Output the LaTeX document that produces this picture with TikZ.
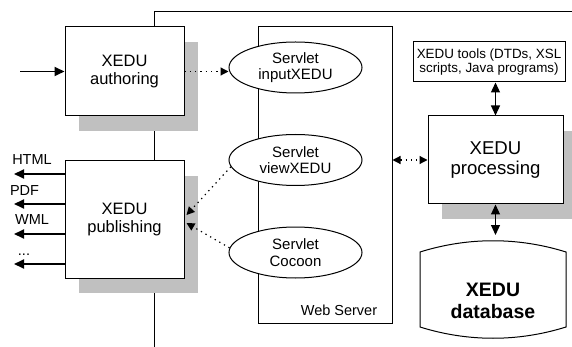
\documentclass[tikz,border=0pt]{standalone}
\usepackage{fontspec}
\setmainfont{Liberation Sans}
\usetikzlibrary{shapes.geometric,arrows.meta,shadows}
\definecolor{shadowgray}{HTML}{C0C0C0}
\begin{document}
\begin{tikzpicture}[x=1pt,y=-1pt,
  every node/.style={inner sep=0pt,align=center},
  frame/.style={line width=1pt},
  mainbox/.style={draw,fill=white,line width=1pt,
    drop shadow={shadow xshift=14pt,shadow yshift=-15pt,fill=shadowgray,opacity=1},
    font=\fontsize{16.5}{18.5}\selectfont},
  servlet/.style={ellipse,draw,fill=white,line width=1pt,minimum width=133pt,minimum height=51pt,
    font=\fontsize{15}{16.5}\selectfont},
  lbl/.style={font=\fontsize{14.5}{16}\selectfont},
  solidarrow/.style={line width=1.8pt,-{Triangle[length=10pt,width=9pt]}},
  dotarrow/.style={line width=1.2pt,dash pattern=on 1.3pt off 4pt,-{Triangle[length=8pt,width=8pt]}},
  dotdouble/.style={line width=1.2pt,dash pattern=on 1.3pt off 4pt,{Triangle[length=8pt,width=8pt]}-{Triangle[length=8pt,width=8pt]}},
  soliddouble/.style={line width=1.2pt,{Triangle[length=10pt,width=9pt]}-{Triangle[length=10pt,width=9pt]}}
]
\useasboundingbox (0,0) rectangle (572,347);
\clip (0,0) rectangle (572,347);

% frame lines
\draw[frame] (572,12) -- (154,12) -- (154,347);

% web server
\node[draw,fill=white,line width=1pt,minimum width=134pt,minimum height=296pt] (web) at (325,175) {};
\node[lbl,anchor=base] (weblbl) at (339,315) {Web Server};

% main boxes
\node[mainbox,minimum width=119pt,minimum height=89pt] (auth) at (124.5,71.5) {XEDU\\authoring};
\node[mainbox,minimum width=119pt,minimum height=117pt] (pub) at (124.5,219.5) {XEDU\\publishing};
\node[mainbox,minimum width=135pt,minimum height=88pt,font=\fontsize{18.6}{20}\selectfont] (proc) at (495.5,160) {XEDU\\processing};

% servlets
\node[servlet] (inp) at (295.5,67.5) {Servlet\\inputXEDU};
\node[servlet] (view) at (295.5,160) {Servlet\\viewXEDU};
\node[servlet] (coc) at (295.5,252.5) {Servlet\\Cocoon};

% tools
\node[draw,fill=white,line width=1pt,minimum width=152pt,minimum height=40pt,
  font=\fontsize{13.4}{14}\selectfont] (tools) at (489,62) {XEDU tools (DTDs, XSL\\scripts, Java programs)};

% database
\draw[line width=1pt,fill=white] (420,252) .. controls (468,237) and (518,237) .. (566,252)
  -- (566,327) .. controls (518,342) and (468,342) .. (420,327) -- cycle;
\node[font=\fontsize{19.5}{22.5}\selectfont\bfseries] (db) at (493,301) {XEDU\\database};
\coordinate (dbtop) at (495.5,235);

% input arrow
\coordinate (inA) at (20,71.5);
\draw[solidarrow] (inA) -- (auth.west);

% output arrows and labels
\coordinate (o1) at (14,174);
\coordinate (o2) at (14,204);
\coordinate (o3) at (14,234);
\coordinate (o4) at (14,264);
\draw[solidarrow] (pub.west |- o1) -- (o1);
\draw[solidarrow] (pub.west |- o2) -- (o2);
\draw[solidarrow] (pub.west |- o3) -- (o3);
\draw[solidarrow] (pub.west |- o4) -- (o4);
\node[lbl] (html) at (32,160) {HTML};
\node[lbl] (pdf) at (24.5,191) {PDF};
\node[lbl] (wml) at (32,220) {WML};
\node[lbl] (dots) at (24,255) {...};

% dotted connectors
\draw[dotarrow] (auth.east) -- (auth.east -| inp.west);
\draw[dotarrow] (view.186) -- ([xshift=2pt,yshift=4.5pt]pub.east);
\draw[dotarrow] (coc.176) -- ([xshift=2pt,yshift=-3.5pt]pub.east);
\draw[dotdouble] (proc.west -| web.east) -- (proc.west);

% solid double arrows
\draw[soliddouble] (proc.north |- tools.south) -- (proc.north);
\draw[soliddouble] (proc.south) -- (dbtop);
\end{tikzpicture}
\end{document}
